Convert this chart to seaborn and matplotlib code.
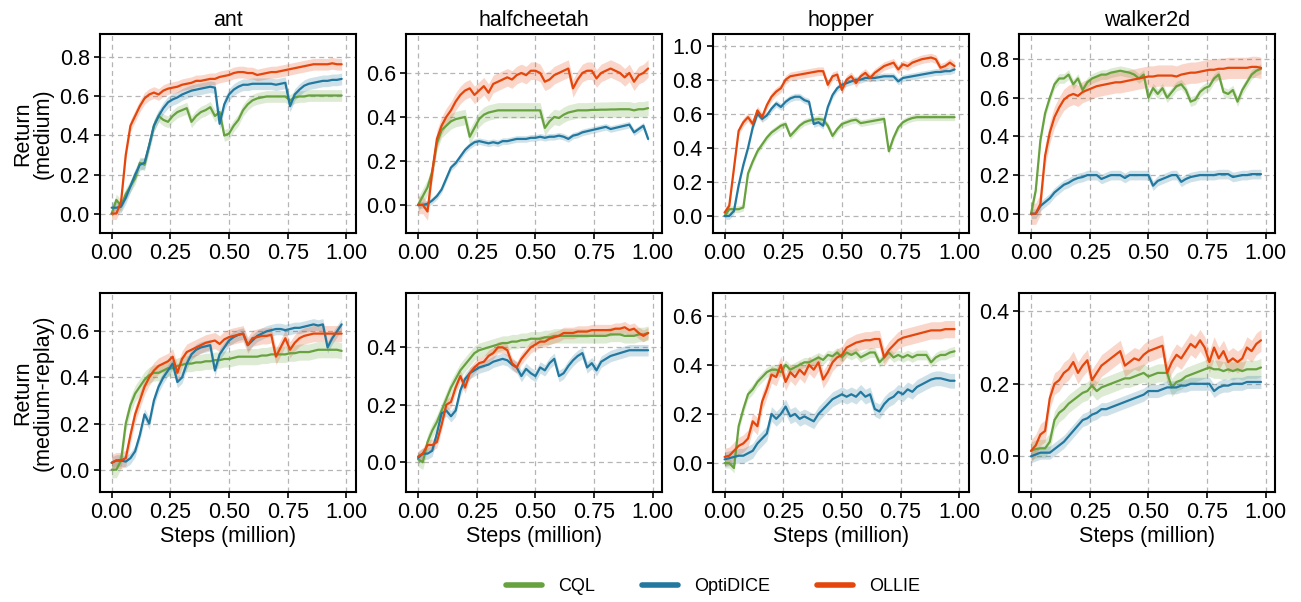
import numpy as np
import pandas as pd
import seaborn as sns
import matplotlib.pyplot as plt
from matplotlib.lines import Line2D

# Training steps (million), 50 evaluation points per run
steps = np.round(np.arange(50) * 0.02, 2)

envs = ["ant", "halfcheetah", "hopper", "walker2d"]
datasets = ["medium", "medium-replay"]
methods = ["CQL", "OptiDICE", "OLLIE"]
colors = {"CQL": "#67a23f", "OptiDICE": "#22789f", "OLLIE": "#e4460c"}

# ---------- medium ----------
ant_m_cql = [0.0, 0.07, 0.04, 0.10, 0.14, 0.18, 0.26, 0.25, 0.35, 0.45,
             0.50, 0.48, 0.47, 0.50, 0.52, 0.53, 0.54, 0.47, 0.50, 0.52,
             0.53, 0.545, 0.50, 0.52, 0.40, 0.41, 0.45, 0.48, 0.53, 0.56,
             0.58, 0.59, 0.595, 0.60, 0.60, 0.60, 0.60, 0.60, 0.58, 0.595,
             0.60, 0.60, 0.605, 0.605, 0.605, 0.605, 0.605, 0.605, 0.605, 0.605]
ant_m_opti = [0.03, 0.03, 0.035, 0.08, 0.14, 0.20, 0.25, 0.26, 0.35, 0.45,
              0.50, 0.54, 0.57, 0.585, 0.595, 0.61, 0.62, 0.63, 0.635, 0.64,
              0.645, 0.65, 0.645, 0.46, 0.56, 0.61, 0.635, 0.65, 0.66, 0.66,
              0.665, 0.665, 0.665, 0.665, 0.665, 0.66, 0.665, 0.67, 0.55, 0.61,
              0.635, 0.655, 0.665, 0.67, 0.675, 0.68, 0.68, 0.685, 0.685, 0.69]
ant_m_ollie = [0.0, 0.0, 0.06, 0.30, 0.45, 0.50, 0.55, 0.59, 0.61, 0.62,
               0.61, 0.63, 0.64, 0.645, 0.65, 0.66, 0.665, 0.67, 0.68, 0.68,
               0.685, 0.69, 0.69, 0.70, 0.705, 0.71, 0.72, 0.725, 0.725, 0.72,
               0.72, 0.71, 0.715, 0.72, 0.725, 0.725, 0.73, 0.735, 0.74, 0.745,
               0.75, 0.755, 0.76, 0.765, 0.765, 0.765, 0.765, 0.77, 0.765, 0.765]

hc_m_cql = [0.0, 0.04, 0.08, 0.15, 0.28, 0.34, 0.36, 0.38, 0.39, 0.395,
            0.40, 0.31, 0.35, 0.39, 0.41, 0.42, 0.425, 0.43, 0.43, 0.43,
            0.43, 0.43, 0.43, 0.43, 0.43, 0.43, 0.43, 0.35, 0.38, 0.40,
            0.395, 0.41, 0.42, 0.425, 0.43, 0.43, 0.43, 0.432, 0.432, 0.433,
            0.433, 0.434, 0.434, 0.435, 0.435, 0.435, 0.43, 0.435, 0.435, 0.44]
hc_m_opti = [0.0, 0.0, 0.005, 0.02, 0.04, 0.07, 0.12, 0.17, 0.19, 0.22,
             0.25, 0.27, 0.285, 0.29, 0.285, 0.28, 0.285, 0.28, 0.29, 0.29,
             0.295, 0.30, 0.30, 0.30, 0.305, 0.305, 0.31, 0.305, 0.31, 0.31,
             0.315, 0.31, 0.30, 0.315, 0.32, 0.33, 0.335, 0.34, 0.345, 0.35,
             0.355, 0.345, 0.35, 0.355, 0.36, 0.365, 0.33, 0.345, 0.36, 0.30]
hc_m_ollie = [0.0, 0.0, -0.03, 0.15, 0.30, 0.36, 0.40, 0.43, 0.47, 0.50,
              0.52, 0.53, 0.50, 0.52, 0.54, 0.51, 0.55, 0.56, 0.57, 0.58,
              0.57, 0.59, 0.60, 0.59, 0.61, 0.61, 0.60, 0.56, 0.57, 0.59,
              0.60, 0.61, 0.62, 0.53, 0.57, 0.60, 0.61, 0.61, 0.575, 0.60,
              0.61, 0.62, 0.61, 0.60, 0.58, 0.60, 0.56, 0.59, 0.60, 0.62]

hop_m_cql = [0.0, 0.04, 0.04, 0.04, 0.05, 0.25, 0.32, 0.38, 0.42, 0.46,
             0.49, 0.51, 0.53, 0.54, 0.47, 0.50, 0.53, 0.55, 0.56, 0.565,
             0.57, 0.565, 0.53, 0.47, 0.51, 0.54, 0.55, 0.56, 0.565, 0.545,
             0.55, 0.555, 0.56, 0.565, 0.57, 0.38, 0.46, 0.52, 0.55, 0.565,
             0.575, 0.58, 0.58, 0.58, 0.58, 0.58, 0.58, 0.58, 0.58, 0.58]
hop_m_opti = [0.0, 0.0, 0.03, 0.18, 0.30, 0.40, 0.52, 0.60, 0.57, 0.59,
              0.63, 0.66, 0.64, 0.67, 0.69, 0.70, 0.70, 0.68, 0.67, 0.54,
              0.55, 0.53, 0.64, 0.71, 0.75, 0.77, 0.78, 0.79, 0.80, 0.80,
              0.81, 0.81, 0.81, 0.815, 0.82, 0.82, 0.82, 0.79, 0.81, 0.815,
              0.82, 0.825, 0.83, 0.835, 0.84, 0.845, 0.845, 0.85, 0.85, 0.86]
hop_m_ollie = [0.02, 0.06, 0.28, 0.50, 0.55, 0.58, 0.54, 0.62, 0.58, 0.65,
               0.70, 0.73, 0.75, 0.80, 0.82, 0.825, 0.83, 0.835, 0.84, 0.845,
               0.85, 0.85, 0.77, 0.82, 0.83, 0.74, 0.80, 0.82, 0.78, 0.82,
               0.84, 0.81, 0.84, 0.86, 0.88, 0.89, 0.90, 0.86, 0.89, 0.88,
               0.90, 0.91, 0.92, 0.925, 0.93, 0.92, 0.87, 0.88, 0.90, 0.88]

wk_m_cql = [0.0, 0.12, 0.38, 0.52, 0.60, 0.67, 0.70, 0.70, 0.72, 0.67,
            0.70, 0.64, 0.68, 0.70, 0.71, 0.72, 0.72, 0.73, 0.735, 0.74,
            0.735, 0.73, 0.72, 0.70, 0.72, 0.60, 0.65, 0.62, 0.65, 0.60,
            0.63, 0.66, 0.67, 0.64, 0.58, 0.59, 0.63, 0.65, 0.66, 0.70,
            0.72, 0.63, 0.62, 0.64, 0.58, 0.64, 0.68, 0.72, 0.74, 0.75]
wk_m_opti = [0.0, 0.0, 0.04, 0.06, 0.08, 0.11, 0.13, 0.15, 0.16, 0.175,
             0.185, 0.19, 0.20, 0.20, 0.20, 0.18, 0.19, 0.20, 0.20, 0.20,
             0.185, 0.20, 0.20, 0.20, 0.20, 0.20, 0.145, 0.17, 0.18, 0.19,
             0.20, 0.20, 0.165, 0.18, 0.19, 0.195, 0.20, 0.20, 0.20, 0.20,
             0.205, 0.205, 0.205, 0.19, 0.195, 0.20, 0.20, 0.205, 0.205, 0.205]
wk_m_ollie = [0.0, 0.0, 0.05, 0.30, 0.42, 0.50, 0.55, 0.59, 0.61, 0.62,
              0.61, 0.63, 0.64, 0.65, 0.66, 0.665, 0.67, 0.675, 0.68, 0.68,
              0.685, 0.69, 0.695, 0.70, 0.705, 0.71, 0.71, 0.715, 0.715, 0.715,
              0.715, 0.71, 0.72, 0.725, 0.73, 0.73, 0.735, 0.74, 0.745, 0.745,
              0.75, 0.75, 0.755, 0.755, 0.755, 0.755, 0.755, 0.76, 0.76, 0.755]

# ---------- medium-replay ----------
ant_r_cql = [0.0, 0.0, 0.04, 0.20, 0.28, 0.33, 0.36, 0.39, 0.41, 0.42,
             0.42, 0.43, 0.44, 0.44, 0.45, 0.455, 0.46, 0.46, 0.465, 0.465,
             0.47, 0.47, 0.475, 0.475, 0.48, 0.48, 0.485, 0.49, 0.49, 0.49,
             0.49, 0.49, 0.495, 0.495, 0.50, 0.50, 0.50, 0.50, 0.505, 0.505,
             0.51, 0.51, 0.51, 0.515, 0.52, 0.52, 0.52, 0.52, 0.52, 0.515]
ant_r_opti = [0.03, 0.04, 0.04, 0.035, 0.05, 0.08, 0.15, 0.24, 0.20, 0.30,
              0.36, 0.40, 0.43, 0.46, 0.38, 0.40, 0.46, 0.50, 0.52, 0.53,
              0.535, 0.54, 0.43, 0.50, 0.53, 0.56, 0.575, 0.585, 0.59, 0.54,
              0.56, 0.58, 0.59, 0.60, 0.605, 0.61, 0.61, 0.605, 0.61, 0.615,
              0.615, 0.62, 0.625, 0.63, 0.625, 0.63, 0.53, 0.57, 0.60, 0.63]
ant_r_ollie = [0.03, 0.04, 0.04, 0.05, 0.15, 0.24, 0.30, 0.36, 0.40, 0.43,
               0.45, 0.46, 0.47, 0.49, 0.42, 0.48, 0.51, 0.52, 0.53, 0.54,
               0.55, 0.555, 0.56, 0.545, 0.565, 0.575, 0.58, 0.585, 0.59, 0.54,
               0.57, 0.575, 0.58, 0.58, 0.585, 0.49, 0.53, 0.57, 0.52, 0.55,
               0.57, 0.58, 0.585, 0.59, 0.59, 0.59, 0.59, 0.59, 0.59, 0.59]

hc_r_cql = [0.01, 0.0, 0.07, 0.11, 0.14, 0.18, 0.22, 0.26, 0.29, 0.32,
            0.34, 0.36, 0.38, 0.39, 0.395, 0.40, 0.405, 0.41, 0.415, 0.415,
            0.42, 0.42, 0.425, 0.425, 0.43, 0.43, 0.43, 0.435, 0.435, 0.44,
            0.44, 0.44, 0.44, 0.44, 0.44, 0.44, 0.44, 0.44, 0.44, 0.44,
            0.44, 0.445, 0.445, 0.445, 0.44, 0.44, 0.44, 0.445, 0.445, 0.45]
hc_r_opti = [0.015, 0.03, 0.03, 0.04, 0.10, 0.17, 0.18, 0.16, 0.18, 0.25,
             0.29, 0.31, 0.32, 0.33, 0.335, 0.34, 0.35, 0.355, 0.36, 0.355,
             0.34, 0.33, 0.30, 0.325, 0.31, 0.30, 0.33, 0.32, 0.345, 0.36,
             0.30, 0.31, 0.335, 0.355, 0.37, 0.38, 0.33, 0.345, 0.32, 0.35,
             0.36, 0.37, 0.375, 0.38, 0.385, 0.39, 0.39, 0.39, 0.39, 0.39]
hc_r_ollie = [0.02, 0.03, 0.06, 0.06, 0.07, 0.13, 0.20, 0.21, 0.26, 0.30,
              0.26, 0.31, 0.33, 0.345, 0.35, 0.37, 0.38, 0.40, 0.40, 0.39,
              0.345, 0.33, 0.36, 0.38, 0.40, 0.41, 0.42, 0.42, 0.43, 0.435,
              0.44, 0.45, 0.45, 0.45, 0.455, 0.455, 0.455, 0.46, 0.46, 0.46,
              0.46, 0.46, 0.465, 0.465, 0.47, 0.46, 0.465, 0.45, 0.44, 0.45]

hop_r_cql = [0.0, 0.0, -0.02, 0.15, 0.22, 0.28, 0.30, 0.33, 0.35, 0.37,
             0.38, 0.38, 0.37, 0.40, 0.38, 0.39, 0.40, 0.41, 0.41, 0.42,
             0.43, 0.42, 0.44, 0.435, 0.45, 0.43, 0.45, 0.44, 0.45, 0.43,
             0.44, 0.45, 0.45, 0.41, 0.43, 0.45, 0.43, 0.44, 0.43, 0.44,
             0.43, 0.44, 0.44, 0.44, 0.41, 0.43, 0.44, 0.44, 0.45, 0.455]
hop_r_opti = [0.015, 0.02, 0.025, 0.03, 0.03, 0.04, 0.05, 0.08, 0.10, 0.12,
              0.20, 0.18, 0.20, 0.23, 0.19, 0.20, 0.18, 0.19, 0.18, 0.17,
              0.20, 0.22, 0.24, 0.26, 0.27, 0.28, 0.27, 0.28, 0.27, 0.29,
              0.27, 0.28, 0.22, 0.21, 0.24, 0.26, 0.27, 0.29, 0.28, 0.30,
              0.29, 0.31, 0.32, 0.33, 0.34, 0.345, 0.345, 0.34, 0.335, 0.335]
hop_r_ollie = [0.025, 0.03, 0.05, 0.07, 0.08, 0.10, 0.17, 0.15, 0.25, 0.30,
               0.36, 0.35, 0.40, 0.33, 0.37, 0.35, 0.38, 0.36, 0.40, 0.38,
               0.41, 0.34, 0.37, 0.41, 0.43, 0.44, 0.47, 0.48, 0.49, 0.495,
               0.50, 0.50, 0.505, 0.505, 0.43, 0.46, 0.48, 0.50, 0.51, 0.515,
               0.52, 0.525, 0.53, 0.535, 0.54, 0.54, 0.54, 0.545, 0.545, 0.545]

wk_r_cql = [0.015, 0.02, 0.022, 0.022, 0.04, 0.10, 0.12, 0.13, 0.145, 0.155,
            0.165, 0.175, 0.18, 0.195, 0.18, 0.19, 0.195, 0.20, 0.205, 0.21,
            0.215, 0.215, 0.22, 0.225, 0.23, 0.22, 0.225, 0.23, 0.23, 0.23,
            0.19, 0.205, 0.21, 0.22, 0.225, 0.23, 0.235, 0.24, 0.245, 0.24,
            0.24, 0.235, 0.24, 0.235, 0.24, 0.235, 0.24, 0.24, 0.24, 0.245]
wk_r_opti = [0.0, 0.005, 0.01, 0.01, 0.01, 0.02, 0.03, 0.04, 0.055, 0.07,
             0.085, 0.10, 0.105, 0.115, 0.12, 0.13, 0.13, 0.135, 0.14, 0.145,
             0.15, 0.155, 0.16, 0.165, 0.17, 0.18, 0.18, 0.18, 0.185, 0.19,
             0.19, 0.19, 0.195, 0.195, 0.20, 0.20, 0.20, 0.20, 0.20, 0.18,
             0.19, 0.195, 0.195, 0.20, 0.20, 0.20, 0.205, 0.205, 0.205, 0.205]
wk_r_ollie = [0.015, 0.03, 0.06, 0.07, 0.16, 0.20, 0.21, 0.23, 0.24, 0.26,
              0.23, 0.25, 0.265, 0.21, 0.23, 0.25, 0.26, 0.27, 0.28, 0.29,
              0.25, 0.26, 0.27, 0.265, 0.28, 0.29, 0.295, 0.30, 0.305, 0.23,
              0.26, 0.28, 0.27, 0.29, 0.31, 0.30, 0.32, 0.30, 0.26, 0.30,
              0.27, 0.29, 0.26, 0.27, 0.26, 0.27, 0.30, 0.29, 0.31, 0.32]

# Half-width of the shaded band (across seeds) for each run
spread = {
    ("medium", "ant"): [0.03, 0.03, 0.03],
    ("medium", "halfcheetah"): [0.035, 0.015, 0.04],
    ("medium", "hopper"): [0.02, 0.02, 0.025],
    ("medium", "walker2d"): [0.025, 0.025, 0.055],
    ("medium-replay", "ant"): [0.035, 0.025, 0.035],
    ("medium-replay", "halfcheetah"): [0.025, 0.02, 0.02],
    ("medium-replay", "hopper"): [0.02, 0.03, 0.035],
    ("medium-replay", "walker2d"): [0.025, 0.018, 0.03],
}

curves = {
    ("medium", "ant"): [ant_m_cql, ant_m_opti, ant_m_ollie],
    ("medium", "halfcheetah"): [hc_m_cql, hc_m_opti, hc_m_ollie],
    ("medium", "hopper"): [hop_m_cql, hop_m_opti, hop_m_ollie],
    ("medium", "walker2d"): [wk_m_cql, wk_m_opti, wk_m_ollie],
    ("medium-replay", "ant"): [ant_r_cql, ant_r_opti, ant_r_ollie],
    ("medium-replay", "halfcheetah"): [hc_r_cql, hc_r_opti, hc_r_ollie],
    ("medium-replay", "hopper"): [hop_r_cql, hop_r_opti, hop_r_ollie],
    ("medium-replay", "walker2d"): [wk_r_cql, wk_r_opti, wk_r_ollie],
}

ylims = {
    ("medium", "ant"): (-0.1, 0.92),
    ("medium", "halfcheetah"): (-0.128, 0.777),
    ("medium", "hopper"): (-0.1, 1.068),
    ("medium", "walker2d"): (-0.1, 0.93),
    ("medium-replay", "ant"): (-0.096, 0.767),
    ("medium-replay", "halfcheetah"): (-0.103, 0.59),
    ("medium-replay", "hopper"): (-0.117, 0.693),
    ("medium-replay", "walker2d"): (-0.098, 0.451),
}

rows = []
for (ds, env), series in curves.items():
    for m, vals, sd in zip(methods, series, spread[(ds, env)]):
        for s, v in zip(steps, vals):
            rows.append(dict(dataset=ds, env=env, method=m, step=s,
                             ret=v, lo=v - sd, hi=v + sd))
df = pd.DataFrame(rows)

sns.set_theme(style="white")
plt.rcParams["font.family"] = ["Liberation Sans", "DejaVu Sans"]
plt.rcParams["text.color"] = "black"
plt.rcParams["axes.labelcolor"] = "black"
plt.rcParams["axes.edgecolor"] = "black"

FS = 15.5

fig, axes = plt.subplots(2, 4, figsize=(13.01, 6.02), dpi=100)
fig.subplots_adjust(left=0.0769, right=0.980, top=0.9435, bottom=0.183,
                    wspace=0.199, hspace=0.30)

for r, ds in enumerate(datasets):
    for c, env in enumerate(envs):
        ax = axes[r, c]
        sub = df[(df.dataset == ds) & (df.env == env)]
        for m in methods:
            d = sub[sub.method == m]
            ax.fill_between(d.step, d.lo, d.hi, color=colors[m], alpha=0.22,
                            linewidth=0)
        sns.lineplot(data=sub, x="step", y="ret", hue="method",
                     hue_order=methods, palette=colors, ax=ax,
                     linewidth=1.6, legend=False, errorbar=None)
        lo, hi = ylims[(ds, env)]
        ax.set_xlim(-0.0495, 1.0395)
        ax.set_ylim(lo, hi)
        ax.set_xticks([0, 0.25, 0.5, 0.75, 1.0])
        ax.set_xticklabels(["0.00", "0.25", "0.50", "0.75", "1.00"])
        yt = np.round(np.arange(0, hi, 0.2), 1)
        ax.set_yticks(yt)
        ax.set_yticklabels([f"{v:.1f}" for v in yt])
        ax.grid(True, linestyle=(0, (4, 3)), color="#b5b5b5", linewidth=0.9)
        ax.set_axisbelow(True)
        for sp in ax.spines.values():
            sp.set_linewidth(1.5)
            sp.set_color("black")
        ax.tick_params(axis="both", direction="out", length=4.5, width=1.2,
                       labelsize=FS, colors="black", bottom=True, left=True,
                       pad=3)
        ax.set_ylabel("")
        if r == 0:
            ax.set_title(env, fontsize=FS, pad=6, color="black")
            ax.set_xlabel("")
        else:
            ax.set_xlabel("Steps (million)", fontsize=FS, labelpad=2)
        if c == 0:
            ax.set_ylabel(f"Return\n({ds})", fontsize=FS, labelpad=4,
                          linespacing=1.0)

handles = [Line2D([0], [0], color=colors[m], linewidth=4) for m in methods]
fig.legend(handles, methods, loc="center", bbox_to_anchor=(0.548, 0.025),
           ncol=3, frameon=False, fontsize=13, handlelength=2.0,
           columnspacing=2.6, handletextpad=0.9)

fig.savefig("out.png", dpi=100)
